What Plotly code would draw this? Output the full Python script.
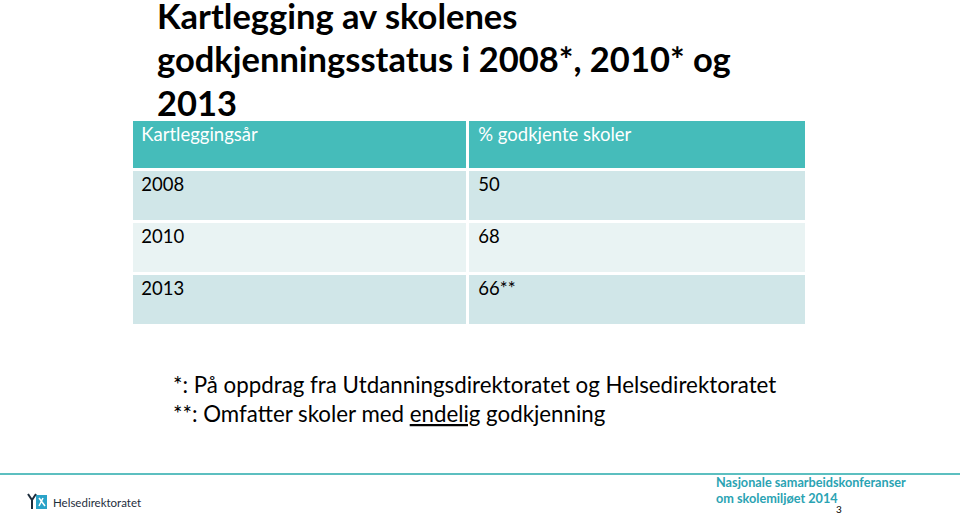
import plotly.graph_objects as go

W, H = 960, 515

title_lines = ["Kartlegging av skolenes", "godkjenningsstatus i 2008*, 2010* og", "2013"]
col_headers = ["Kartleggingsår", "% godkjente skoler"]
years = ["2008", "2010", "2013"]
pct_labels = ["50", "68", "66**"]
footnotes = ["*: På oppdrag fra Utdanningsdirektoratet og Helsedirektoratet",
             "**: Omfatter skoler med <u>endelig</u> godkjenning"]
footer_right = ["Nasjonale samarbeidskonferanser", "om skolemiljøet 2014"]
page_no = "3"
org_name = "Helsedirektoratet"

FONT = "Lato"
HEAD_C = "#45BCBA"
ROW_A = "#D0E6E8"
ROW_B = "#E9F3F3"
TEAL_TXT = "#2AA3B3"
PAD = "\u2009"  # small extra left inset inside table cells

def py(p):
    return 1 - p / H

def px(p):
    return p / W

fig = go.Figure()

fig.add_trace(go.Table(
    domain=dict(x=[px(131), px(806)], y=[py(327), py(119)]),
    columnwidth=[336, 337],
    header=dict(values=[PAD + h for h in col_headers], fill_color=HEAD_C,
                line=dict(color="white", width=3),
                font=dict(family=FONT, size=18.5, color="white"),
                align="left", height=50),
    cells=dict(values=[[PAD + v for v in years], [PAD + v for v in pct_labels]],
               fill_color=[[ROW_A, ROW_B, ROW_A]] * 2,
               line=dict(color="white", width=3),
               font=dict(family=FONT, size=18.5, color="black"),
               align="left", height=52),
))

annotations = []
title_y = [16, 59, 103]
for t, yy in zip(title_lines, title_y):
    annotations.append(dict(text=t, x=px(155), y=py(yy), xref="paper", yref="paper",
                            xanchor="left", yanchor="middle", showarrow=False,
                            font=dict(family=FONT, size=34.5, color="black", weight="bold")))
for i, t in enumerate(footnotes):
    annotations.append(dict(text=t, x=px(171), y=py(384 + 29 * i), xref="paper", yref="paper",
                            xanchor="left", yanchor="middle", showarrow=False,
                            font=dict(family=FONT, size=22.3, color="black")))
for i, t in enumerate(footer_right):
    annotations.append(dict(text="<b>" + t + "</b>", x=px(714), y=py(482 + 16 * i), xref="paper", yref="paper",
                            xanchor="left", yanchor="middle", showarrow=False,
                            font=dict(family=FONT, size=12.7, color=TEAL_TXT)))
annotations.append(dict(text=page_no, x=px(839), y=py(509), xref="paper", yref="paper",
                        xanchor="center", yanchor="middle", showarrow=False,
                        font=dict(family=FONT, size=10, color="black")))
annotations.append(dict(text=org_name, x=px(51), y=py(502), xref="paper", yref="paper",
                        xanchor="left", yanchor="middle", showarrow=False,
                        font=dict(family=FONT, size=11.5, color="#1E2D3C")))

shapes = [
    dict(type="line", xref="paper", yref="paper", x0=0, x1=1, y0=py(474), y1=py(474),
         line=dict(color="#5CBFC0", width=2)),
    dict(type="rect", xref="paper", yref="paper", x0=px(36), x1=px(47), y0=py(509), y1=py(495),
         fillcolor="#2AA3C8", line=dict(width=0)),
    dict(type="path", xref="paper", yref="paper",
         path=f"M {px(28)} {py(494)} L {px(32)} {py(500)} L {px(36)} {py(494)} M {px(32)} {py(500)} L {px(32)} {py(509)}",
         line=dict(color="#1E2D3C", width=2)),
    dict(type="path", xref="paper", yref="paper",
         path=f"M {px(39)} {py(498)} L {px(45)} {py(506)} M {px(43)} {py(498)} L {px(39)} {py(506)}",
         line=dict(color="white", width=1.5)),
]

fig.update_layout(width=W, height=H, margin=dict(l=0, r=0, t=0, b=0),
                  paper_bgcolor="white", plot_bgcolor="white",
                  annotations=annotations, shapes=shapes, showlegend=False)

# remove the browser's default 8px body margin so the figure fills the window exactly
fig.write_html("out.html", config={"displayModeBar": False},
               post_script="document.body.style.margin='0';document.body.style.overflow='hidden';")
